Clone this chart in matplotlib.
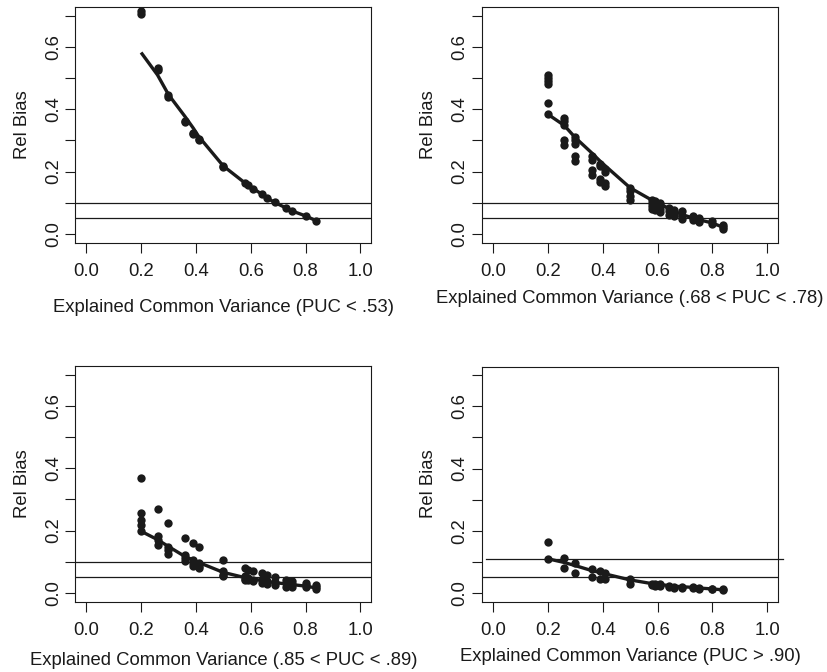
import numpy as np
import matplotlib
matplotlib.use("Agg")
import matplotlib.pyplot as plt
from matplotlib.ticker import FixedLocator, FixedFormatter

plt.rcParams['font.family'] = ['Liberation Sans', 'DejaVu Sans']

# --- data ---
ecv = [0.20, 0.26, 0.30, 0.36, 0.39, 0.41, 0.50, 0.58, 0.59, 0.61,
       0.64, 0.66, 0.69, 0.73, 0.75, 0.80, 0.84]

# points per design level (one inner list per ecv value)
pts_a = [[0.716, 0.705], [0.532, 0.525], [0.446, 0.440], [0.362, 0.358],
         [0.325, 0.320], [0.300, 0.306], [0.217, 0.214], [0.163], [0.156],
         [0.144], [0.127], [0.115], [0.102], [0.082], [0.074], [0.057], [0.042]]
pts_b = [[0.51, 0.50, 0.49, 0.48, 0.42, 0.385], [0.373, 0.362, 0.35, 0.30, 0.285],
         [0.31, 0.30, 0.29, 0.25, 0.235], [0.25, 0.237, 0.205, 0.188],
         [0.225, 0.218, 0.175, 0.166], [0.207, 0.198, 0.164, 0.155],
         [0.148, 0.137, 0.121, 0.110], [0.110, 0.100, 0.089, 0.080],
         [0.105, 0.095, 0.085, 0.078], [0.100, 0.090, 0.080, 0.072],
         [0.084, 0.073, 0.062], [0.078, 0.062, 0.057], [0.073, 0.059, 0.049],
         [0.059, 0.051, 0.046], [0.051, 0.044, 0.038], [0.041, 0.033],
         [0.030, 0.022, 0.017]]
pts_c = [[0.370, 0.255, 0.235, 0.217, 0.200], [0.270, 0.182, 0.169, 0.155],
         [0.223, 0.149, 0.139, 0.126], [0.176, 0.123, 0.112, 0.101],
         [0.160, 0.106, 0.096, 0.087], [0.146, 0.096, 0.087, 0.080],
         [0.106, 0.069, 0.058, 0.053], [0.080, 0.053, 0.044, 0.040],
         [0.074, 0.047, 0.042], [0.071, 0.042, 0.037], [0.063, 0.042, 0.031],
         [0.058, 0.039, 0.029], [0.051, 0.034, 0.025], [0.042, 0.031, 0.020],
         [0.039, 0.028, 0.018], [0.033, 0.026, 0.018], [0.026, 0.018, 0.012]]
pts_d = [[0.163, 0.110], [0.114, 0.079], [0.097, 0.063], [0.076, 0.051],
         [0.070, 0.046], [0.065, 0.044], [0.044, 0.030], [0.030, 0.025],
         [0.029, 0.023], [0.028, 0.022], [0.022, 0.020], [0.020, 0.017],
         [0.020, 0.017], [0.019, 0.015], [0.017, 0.014], [0.014, 0.012],
         [0.014, 0.010]]

# smoothed curve per panel (at ecv)
fit_a = [0.582, 0.510, 0.447, 0.377, 0.340, 0.313, 0.218, 0.163, 0.156, 0.145,
         0.128, 0.115, 0.100, 0.083, 0.074, 0.058, 0.042]
fit_b = [0.384, 0.348, 0.309, 0.260, 0.234, 0.218, 0.148, 0.108, 0.103, 0.096,
         0.082, 0.073, 0.062, 0.051, 0.046, 0.035, 0.021]
fit_c = [0.198, 0.171, 0.149, 0.117, 0.106, 0.098, 0.066, 0.049, 0.047, 0.045,
         0.040, 0.037, 0.033, 0.029, 0.027, 0.022, 0.016]
fit_d = [0.110, 0.098, 0.088, 0.072, 0.066, 0.061, 0.042, 0.030, 0.029, 0.027,
         0.024, 0.022, 0.020, 0.018, 0.016, 0.013, 0.010]

xlabels = ["Explained Common Variance (PUC < .53)",
           "Explained Common Variance (.68 < PUC < .78)",
           "Explained Common Variance (.85 < PUC < .89)",
           "Explained Common Variance (PUC > .90)"]
upper_ref = [0.10, 0.10, 0.10, 0.11]
lower_ref = [0.05, 0.05, 0.05, 0.05]

# --- layout (figure pixels) ---
W, H = 827, 672
boxes = [(75.3, 7.0, 371.3, 242.7), (482.0, 7.0, 778.3, 242.7),
         (75.3, 366.0, 371.3, 601.7), (482.0, 366.5, 778.3, 601.7)]
xlab_base = [69, 60, 63, 59]  # px below box bottom to label baseline

fs = 13.3
ink = "#1a1a1a"

fig = plt.figure(figsize=(W / 100, H / 100), dpi=100)

panels = [(pts_a, fit_a), (pts_b, fit_b), (pts_c, fit_c), (pts_d, fit_d)]
for i, (pts, fit) in enumerate(panels):
    x0, y0, x1, y1 = boxes[i]
    ax = fig.add_axes([x0 / W, 1 - y1 / H, (x1 - x0) / W, (y1 - y0) / H])
    xs = np.concatenate([[e] * len(p) for e, p in zip(ecv, pts)])
    ys = np.concatenate(pts)

    ax.plot(ecv, fit, color=ink, lw=2.4, solid_capstyle='butt', zorder=3)
    ax.plot(xs, ys, 'o', color=ink, ms=6, mew=0, zorder=4)

    if i == 3:
        ax.plot([-0.024, 1.057], [upper_ref[i]] * 2, color=ink, lw=0.9,
                clip_on=False, zorder=2)
    else:
        ax.axhline(upper_ref[i], color=ink, lw=0.9, zorder=2)
    ax.axhline(lower_ref[i], color=ink, lw=0.9, zorder=2)

    ax.set_xlim(-0.04, 1.04)
    ax.set_ylim(-0.028, 0.728)

    ax.xaxis.set_major_locator(FixedLocator([0.0, 0.2, 0.4, 0.6, 0.8, 1.0]))
    ax.xaxis.set_major_formatter(FixedFormatter(["0.0", "0.2", "0.4", "0.6", "0.8", "1.0"]))
    yt = [0.0, 0.1, 0.2, 0.3, 0.4, 0.5, 0.6, 0.7]
    ax.yaxis.set_major_locator(FixedLocator(yt))
    ax.yaxis.set_major_formatter(FixedFormatter(["0.0", "", "0.2", "", "0.4", "", "0.6", ""]))

    ax.tick_params(axis='both', direction='out', length=7.2, width=0.8,
                   colors=ink, labelsize=fs, labelcolor=ink)
    ax.tick_params(axis='x', pad=7.5)
    ax.tick_params(axis='y', pad=2.5)
    for lab in ax.get_yticklabels():
        lab.set_rotation(90)
        lab.set_va('center')

    for sp in ax.spines.values():
        sp.set_linewidth(0.8)
        sp.set_color(ink)

    bw, bh = x1 - x0, y1 - y0
    ax.set_xlabel(xlabels[i], fontsize=fs, color=ink, va='baseline')
    ax.xaxis.set_label_coords(0.5, -xlab_base[i] / bh)
    ax.set_ylabel("Rel Bias", fontsize=fs, color=ink, va='center')
    ax.yaxis.set_label_coords(-53 / bw, 0.5)

fig.savefig("out.png", dpi=100)
